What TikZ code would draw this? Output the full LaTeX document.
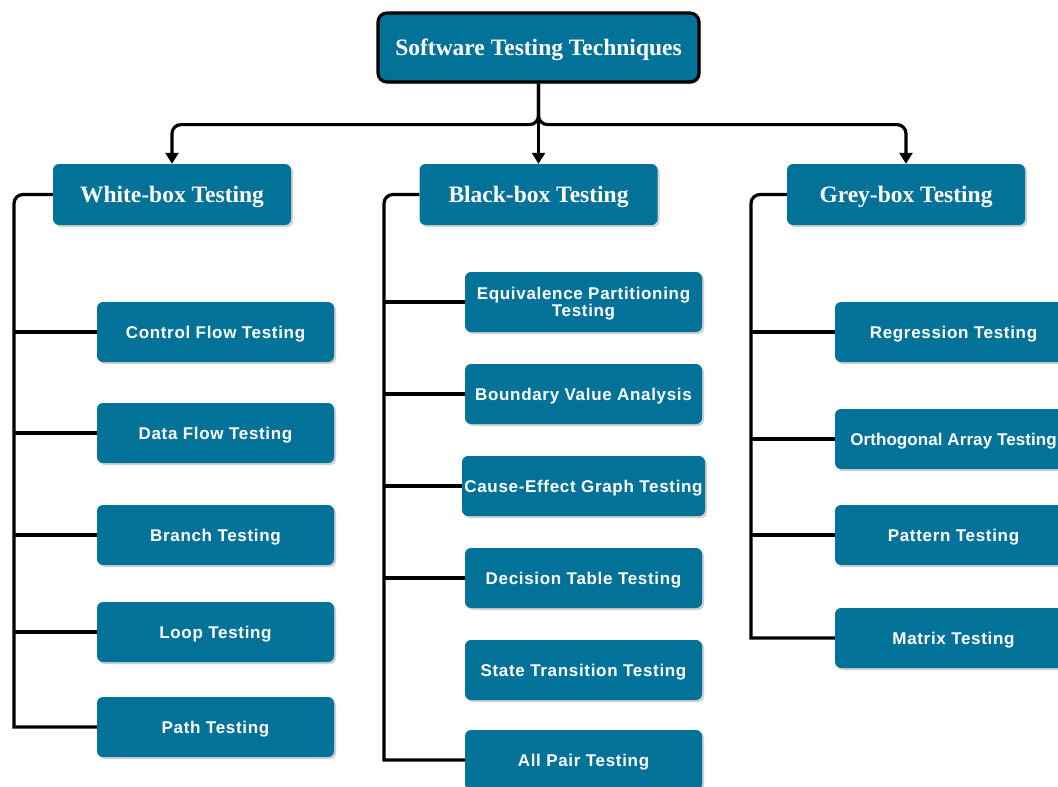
\documentclass[tikz,border=0pt]{standalone}
\usepackage{fontspec}
\setmainfont{Liberation Serif}
\newfontfamily\techfont[LetterSpace=4]{Liberation Sans}
\newfontfamily\techfontnarrow[LetterSpace=0.5]{Liberation Sans}
\usetikzlibrary{arrows.meta,shadows}

\definecolor{tealbox}{RGB}{3,114,153}

\begin{document}
\begin{tikzpicture}[
    x = 1pt,
    y = -1pt,
    >={Triangle[length=11pt,width=13pt]},
    conn/.style = {
      draw,
      line width = 3.2pt
    },
    box/.style = {
      fill = tealbox,
      rounded corners = 6pt,
      text = white,
      align = center,
      inner sep = 0pt,
      text depth = 0pt,
      drop shadow = {shadow xshift = 2pt, shadow yshift = -2pt, fill = black!30, opacity = .6}
    },
    headbox/.style = {
      box,
      minimum width = 238pt,
      minimum height = 61pt,
      font = \fontsize{23.5}{26}\selectfont\bfseries
    },
    techbox/.style = {
      box,
      minimum width = 237pt,
      minimum height = 60pt,
      font = \techfont\fontsize{17}{17}\selectfont\bfseries
    }
  ]
  \useasboundingbox (0,0) rectangle (1058,787);
  \clip (0,0) rectangle (1058,787);

  \node[headbox, draw = black, line width = 3.2pt, rounded corners = 9pt,
        minimum width = 321pt, minimum height = 69pt] (root) at (538.5,47.5)
        {Software Testing Techniques};

  \node[headbox] (white) at (172,194.5) {White-box Testing};
  \node[headbox] (black) at (538.5,194.5) {Black-box Testing};
  \node[headbox] (grey)  at (906,194.5) {Grey-box Testing};

  % white-box
  \node[techbox] (ctrl)   at (215.5,332) {Control Flow Testing};
  \node[techbox] (data)   at (215.5,433) {Data Flow Testing};
  \node[techbox] (branch) at (215.5,535) {Branch Testing};
  \node[techbox] (loop)   at (215.5,632) {Loop Testing};
  \node[techbox] (path)   at (215.5,727) {Path Testing};

  % black-box
  \node[techbox] (equiv)    at (583.5,302) {Equivalence Partitioning\\Testing};
  \node[techbox] (boundary) at (583.5,394) {Boundary Value Analysis};
  \node[techbox, minimum width = 243pt] (cause) at (583.5,486) {Cause-Effect Graph Testing};
  \node[techbox] (decision) at (583.5,578) {Decision Table Testing};
  \node[techbox] (state)    at (583.5,670) {State Transition Testing};
  \node[techbox] (allpair)  at (583.5,760) {All Pair Testing};

  % grey-box
  \node[techbox] (regr)    at (953.5,332) {Regression Testing};
  \node[techbox, font = \techfontnarrow\fontsize{17}{17}\selectfont\bfseries] (ortho)
        at (953.5,439) {Orthogonal Array Testing};
  \node[techbox] (pattern) at (953.5,535) {Pattern Testing};
  \node[techbox] (matrix)  at (953.5,638) {Matrix Testing};

  % root to categories
  \draw[conn,->] (root.south) -- (black.north);
  \draw[conn,->,rounded corners=9pt] (root.south) -- ++(0,41) -| (white.north);
  \draw[conn,->,rounded corners=9pt] (root.south) -- ++(0,41) -| (grey.north);

  % spines
  \coordinate (wspine) at (14,194.5);
  \coordinate (bspine) at (384,194.5);
  \coordinate (gspine) at (751,194.5);

  \draw[conn,rounded corners=9pt] (white.west) -- (wspine) [sharp corners] |- (path.west);
  \draw[conn,rounded corners=9pt] (black.west) -- (bspine) [sharp corners] |- (allpair.west);
  \draw[conn,rounded corners=9pt] (grey.west)  -- (gspine) [sharp corners] |- (matrix.west);

  \draw[conn] (ctrl.west)   -- (ctrl.west -| wspine);
  \draw[conn] (data.west)   -- (data.west -| wspine);
  \draw[conn] (branch.west) -- (branch.west -| wspine);
  \draw[conn] (loop.west)   -- (loop.west -| wspine);

  \draw[conn] (equiv.west)    -- (equiv.west -| bspine);
  \draw[conn] (boundary.west) -- (boundary.west -| bspine);
  \draw[conn] (cause.west)    -- (cause.west -| bspine);
  \draw[conn] (decision.west) -- (decision.west -| bspine);

  \draw[conn] (regr.west)    -- (regr.west -| gspine);
  \draw[conn] (ortho.west)   -- (ortho.west -| gspine);
  \draw[conn] (pattern.west) -- (pattern.west -| gspine);
\end{tikzpicture}
\end{document}
